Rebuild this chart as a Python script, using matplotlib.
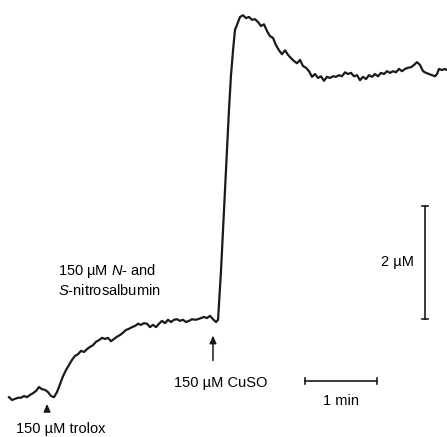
import matplotlib.pyplot as plt

plt.rcParams['font.family'] = ['Liberation Sans', 'DejaVu Sans']
plt.rcParams['mathtext.fontset'] = 'custom'
plt.rcParams['mathtext.rm'] = 'Liberation Sans'
plt.rcParams['mathtext.it'] = 'Liberation Sans:italic'

# trace: time (s) and signal (uM)
time_s = [0, 2.5, 5, 7.5, 10, 12.5, 15, 17.5, 20, 22.5, 25, 27.5, 30, 32.5, 35, 37.5,
          40, 42.5, 45, 47.5, 50, 52.5, 55, 57.5, 60, 62.5, 65, 67.5, 70, 72.5, 75,
          77.5, 80, 82.5, 85, 87.5, 90, 92.5, 95, 97.5, 100, 102.5, 105, 107.5, 110,
          112.5, 115, 117.5, 120, 122.5, 125, 127.5, 130, 132.5, 135, 137.5, 140,
          142.5, 145, 147.5, 150, 152.5, 155, 157.5, 160, 162.5, 165, 167.5, 170,
          172.5, 174.2, 176.7, 179.2, 181.7, 183.3, 185, 186.7, 188.3, 190, 192.5,
          195, 197.5, 200, 202.5, 205, 207.5, 210, 212.5, 215, 217.5, 220, 222.5,
          225, 227.5, 230, 232.5, 235, 237.5, 240, 242.5, 245, 247.5, 250, 252.5,
          255, 257.5, 260, 262.5, 265, 267.5, 270, 272.5, 275, 277.5, 280, 282.5,
          285, 287.5, 290, 292.5, 295, 297.5, 300, 302.5, 305, 307.5, 310, 312.5,
          315, 317.5, 320, 322.5, 325, 327.5, 330, 332.5, 335, 337.5, 340, 342.5,
          345, 347.5, 350, 352.5, 355, 356.7, 358.3, 360.8, 363.3, 365]
signal_um = [0.05, 0.00, 0.02, 0.04, 0.04, 0.07, 0.05, 0.09, 0.12, 0.16, 0.23, 0.19,
             0.18, 0.14, 0.07, 0.05, 0.14, 0.28, 0.42, 0.53, 0.62, 0.71, 0.78, 0.81,
             0.87, 0.85, 0.90, 0.94, 0.97, 1.03, 1.06, 1.10, 1.08, 1.10, 1.04, 1.08,
             1.12, 1.15, 1.19, 1.24, 1.26, 1.29, 1.31, 1.35, 1.33, 1.36, 1.35, 1.29,
             1.33, 1.29, 1.35, 1.40, 1.36, 1.42, 1.38, 1.42, 1.43, 1.40, 1.42, 1.38,
             1.40, 1.43, 1.42, 1.43, 1.45, 1.47, 1.45, 1.49, 1.43, 1.38, 1.42, 2.30,
             3.36, 4.42, 5.13, 5.75, 6.19, 6.55, 6.64, 6.78, 6.81, 6.76, 6.78, 6.73,
             6.74, 6.69, 6.62, 6.65, 6.53, 6.44, 6.41, 6.28, 6.19, 6.12, 6.19, 6.11,
             6.05, 6.00, 5.96, 6.02, 5.91, 5.88, 5.82, 5.72, 5.77, 5.70, 5.73, 5.65,
             5.72, 5.70, 5.73, 5.72, 5.75, 5.73, 5.80, 5.77, 5.79, 5.73, 5.75, 5.66,
             5.72, 5.68, 5.75, 5.72, 5.77, 5.73, 5.79, 5.77, 5.82, 5.79, 5.82, 5.80,
             5.86, 5.82, 5.86, 5.88, 5.89, 5.93, 5.98, 5.93, 5.82, 5.79, 5.77, 5.75,
             5.73, 5.77, 5.86, 5.84, 5.86, 5.84]

# times of the additions
trolox_t = 31.7
cuso_t = 170.0

# scale bars
time_bar = (246.7, 306.7)   # 1 min
time_bar_y = 0.34
conc_bar = (1.43, 3.43)     # 2 uM
conc_bar_x = 346.7

fig = plt.figure(figsize=(4.47, 4.37), dpi=100)
ax = fig.add_axes([0, 0, 1, 1])
ax.plot(time_s, signal_um, color='#1a1a1a', lw=1.6)
ax.set_xlim(-7.5, 365)
ax.set_ylim(-0.655, 7.08)
ax.axis('off')

arrow = dict(arrowstyle='-|>,head_width=0.2,head_length=0.45', color='#1a1a1a', lw=1.1)
ax.annotate('', xy=(trolox_t, -0.02), xytext=(trolox_t, -0.22), arrowprops=arrow)
ax.text(43.3, -0.51, '150 µM trolox', ha='center', va='center', fontsize=10.5)
ax.annotate('', xy=(cuso_t, 1.19), xytext=(cuso_t, 0.65), arrowprops=arrow)
ax.text(176.7, 0.30, '150 µM CuSO', ha='center', va='center', fontsize=10.5)

ax.text(40.8, 2.28, '150 µM $\\mathit{N}$- and', ha='left', va='center', fontsize=10.5)
ax.text(40.8, 1.93, '$\\mathit{S}$-nitrosalbumin', ha='left', va='center', fontsize=10.5)

# scale bars with end caps
ax.plot(time_bar, [time_bar_y, time_bar_y], color='#1a1a1a', lw=1.2)
ax.plot([time_bar[0]] * 2, [time_bar_y - 0.05, time_bar_y + 0.05], color='#1a1a1a', lw=1.2)
ax.plot([time_bar[1]] * 2, [time_bar_y - 0.05, time_bar_y + 0.05], color='#1a1a1a', lw=1.2)
ax.text(sum(time_bar) / 2, -0.02, '1 min', ha='center', va='center', fontsize=10.5)

ax.plot([conc_bar_x, conc_bar_x], conc_bar, color='#1a1a1a', lw=1.2)
ax.plot([conc_bar_x - 2.5, conc_bar_x + 2.5], [conc_bar[0]] * 2, color='#1a1a1a', lw=1.2)
ax.plot([conc_bar_x - 2.5, conc_bar_x + 2.5], [conc_bar[1]] * 2, color='#1a1a1a', lw=1.2)
ax.text(337.5, 2.44, '2 µM', ha='right', va='center', fontsize=10.5)

fig.savefig('out.png', dpi=100)
